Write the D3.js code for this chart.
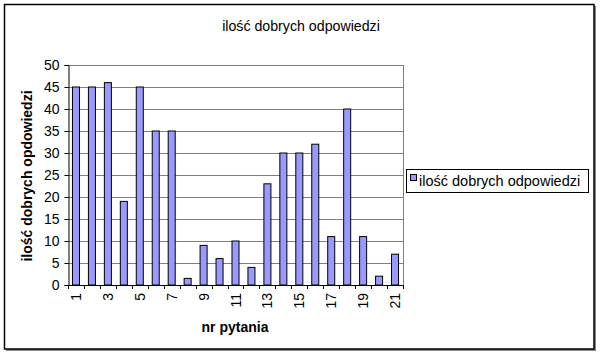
<!DOCTYPE html>
<html>
<head>
<meta charset="utf-8">
<script src="https://cdn.jsdelivr.net/npm/d3@7"></script>
<style>
  body { margin: 0; background: #fff; }
  svg text { font-family: Arial, "Liberation Sans", sans-serif; }
</style>
</head>
<body>
<div id="chart"></div>
<script>
const questions = d3.range(1, 22);
const goodAnswers = [45, 45, 46, 19, 45, 35, 35, 1.5, 9, 6, 10, 4, 23, 30, 30, 32, 11, 40, 11, 2, 7];
const yTicks = [0, 5, 10, 15, 20, 25, 30, 35, 40, 45, 50];
const seriesName = "ilość dobrych odpowiedzi";
const chartTitle = "ilość dobrych odpowiedzi";
const yTitle = "ilość dobrych opdowiedzi";
const xTitle = "nr pytania";

const W = 600, H = 354;
const plot = { left: 68, right: 403, top: 65, bottom: 285 };

const svg = d3.select("#chart").append("svg")
    .attr("width", W)
    .attr("height", H);

// outer frame with shadow
svg.append("rect")
    .attr("x", 6).attr("y", 6).attr("width", 590).attr("height", 345)
    .attr("fill", "#888");
svg.append("rect")
    .attr("x", 4.5).attr("y", 4.5).attr("width", 589.5).attr("height", 344.5)
    .attr("fill", "#fff").attr("stroke", "#000").attr("stroke-width", 1.5);

const x = d3.scaleBand()
    .domain(questions)
    .range([plot.left, plot.right])
    .paddingInner(0.56)
    .paddingOuter(0.28);

const y = d3.scaleLinear()
    .domain([0, 50])
    .range([plot.bottom, plot.top]);

// grid
svg.append("g").selectAll("line")
    .data(yTicks.filter(d => d > 0))
    .enter().append("line")
    .attr("x1", plot.left).attr("x2", plot.right)
    .attr("y1", d => Math.round(y(d)) + 0.5).attr("y2", d => Math.round(y(d)) + 0.5)
    .attr("stroke", "#808080").attr("stroke-width", 1);

svg.append("line")
    .attr("x1", plot.right + 0.5).attr("x2", plot.right + 0.5)
    .attr("y1", plot.top).attr("y2", plot.bottom)
    .attr("stroke", "#808080");

// bars
svg.append("g").selectAll("rect")
    .data(goodAnswers)
    .enter().append("rect")
    .attr("x", (d, i) => x(questions[i]))
    .attr("width", x.bandwidth())
    .attr("y", d => y(d))
    .attr("height", d => y(0) - y(d))
    .attr("fill", "#9999ff")
    .attr("stroke", "#000")
    .attr("stroke-width", 1);

// y axis
const yAxis = svg.append("g")
    .attr("transform", `translate(${plot.left + 0.5},0)`)
    .call(d3.axisLeft(y).tickValues(yTicks).tickSize(4).tickPadding(5));
yAxis.select(".domain").attr("stroke", "#000");
yAxis.selectAll("text").style("font-size", "14px").attr("fill", "#000");

// x axis: ticks at band boundaries, labels on odd questions
const boundaries = d3.range(questions.length + 1).map(i => plot.left + i * (plot.right - plot.left) / questions.length);
svg.append("line")
    .attr("x1", plot.left).attr("x2", plot.right)
    .attr("y1", plot.bottom + 0.5).attr("y2", plot.bottom + 0.5)
    .attr("stroke", "#000");
svg.append("g").selectAll("line")
    .data(boundaries)
    .enter().append("line")
    .attr("x1", d => Math.round(d) + 0.5).attr("x2", d => Math.round(d) + 0.5)
    .attr("y1", plot.bottom).attr("y2", plot.bottom + 4)
    .attr("stroke", "#000");

svg.append("g").selectAll("text")
    .data(questions.filter(q => q % 2 === 1))
    .enter().append("text")
    .attr("transform", d => `translate(${x(d) + x.bandwidth() / 2 + 5},${plot.bottom + 8}) rotate(-90)`)
    .attr("text-anchor", "end")
    .style("font-size", "14px")
    .text(d => d);

// titles
svg.append("text")
    .attr("x", 301).attr("y", 31)
    .attr("text-anchor", "middle")
    .style("font-size", "14.2px")
    .text(chartTitle);

svg.append("text")
    .attr("x", 235).attr("y", 332)
    .attr("text-anchor", "middle")
    .style("font-size", "14px").style("font-weight", "bold")
    .text(xTitle);

svg.append("text")
    .attr("transform", "translate(32,176) rotate(-90)")
    .attr("text-anchor", "middle")
    .style("font-size", "14px").style("font-weight", "bold")
    .text(yTitle);

// legend
const legend = svg.append("g");
legend.append("rect")
    .attr("x", 406.5).attr("y", 169.5).attr("width", 182).attr("height", 23)
    .attr("fill", "#fff").attr("stroke", "#000");
legend.append("rect")
    .attr("x", 410.5).attr("y", 174.5).attr("width", 6).attr("height", 6)
    .attr("fill", "#9999ff").attr("stroke", "#000");
legend.append("text")
    .attr("x", 419).attr("y", 186)
    .style("font-size", "14.5px")
    .text(seriesName);
</script>
</body>
</html>
